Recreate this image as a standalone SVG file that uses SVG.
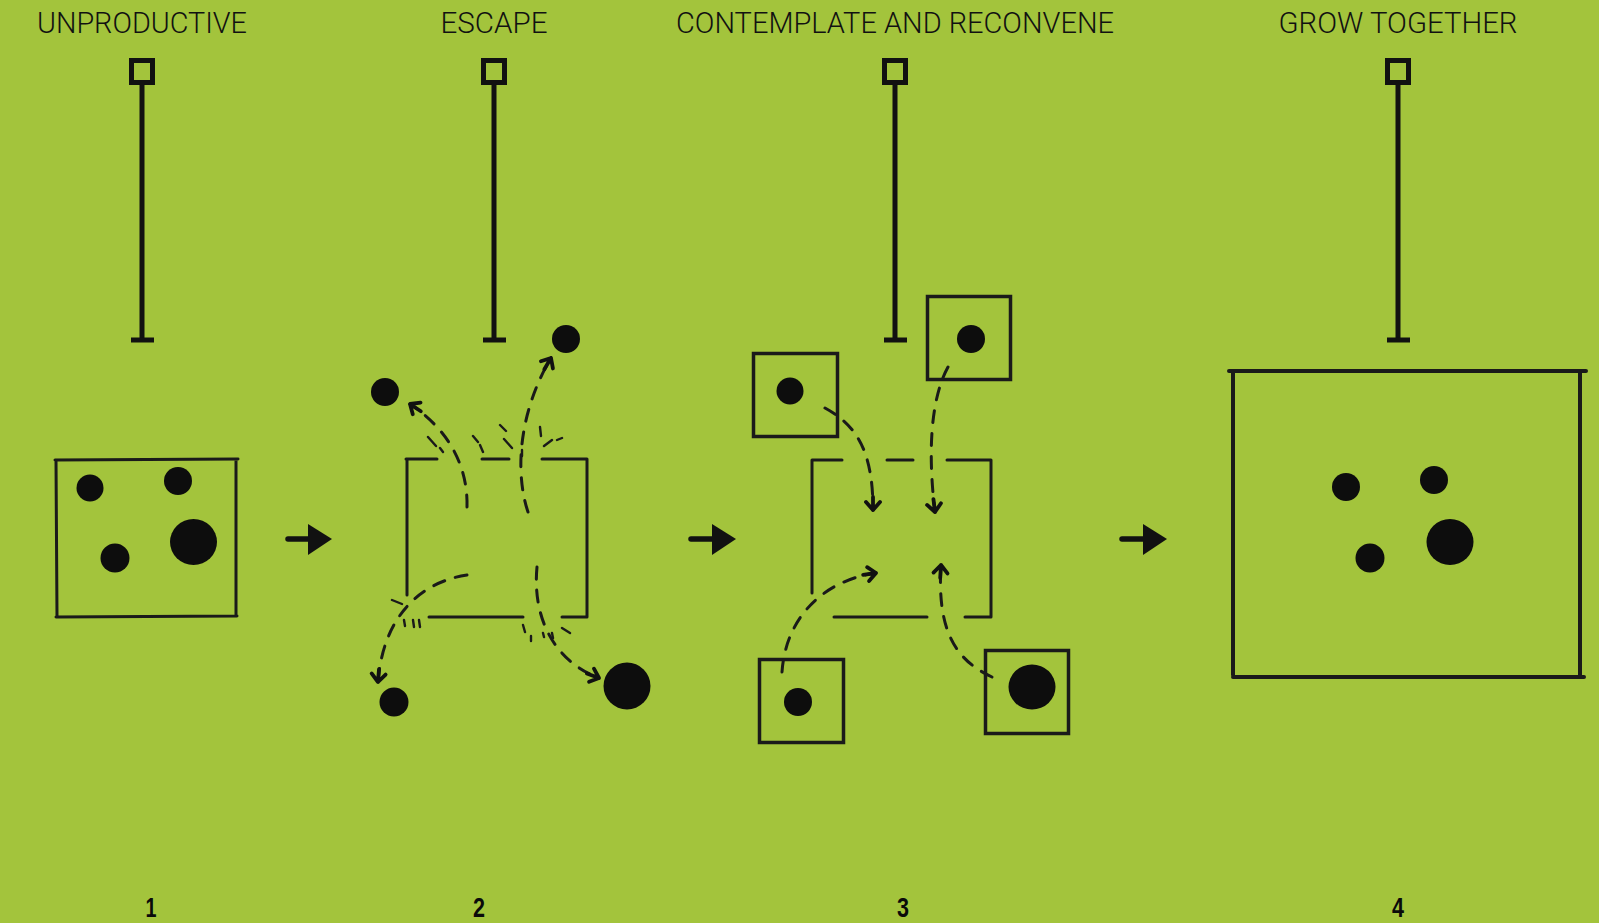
<svg xmlns="http://www.w3.org/2000/svg" width="1599" height="923" viewBox="0 0 1599 923">
<defs>
<style>
.title{font-family:Roboto,"Liberation Sans",Arial,sans-serif;font-weight:300;font-size:29px;fill:#111;text-anchor:middle;}
.num{font-family:"Liberation Sans",Arial,sans-serif;font-size:27px;font-weight:bold;fill:#0a0a0a;text-anchor:middle;}
.pin{fill:none;stroke:#111;stroke-width:5;}
.box{fill:none;stroke:#1a1a1a;stroke-width:3;stroke-linecap:round;}
.sbox{fill:none;stroke:#1a1a1a;stroke-width:3.5;}
.dot{fill:#0d0d0d;}
.dash{fill:none;stroke:#1a1a1a;stroke-width:3;stroke-dasharray:12 11;stroke-linecap:round;marker-end:url(#chev);}
.tick{fill:none;stroke:#1a1a1a;stroke-width:2.4;stroke-linecap:round;}
.big{stroke:#111;stroke-width:5.5;stroke-linecap:round;fill:none;}
</style>
<marker id="chev" viewBox="0 0 20 20" refX="16" refY="10" markerWidth="20" markerHeight="20" orient="auto" markerUnits="userSpaceOnUse">
<path d="M3,10 L16,10 M8,3 L16,10 L8,17" fill="none" stroke="#111" stroke-width="3.8" stroke-linecap="round" stroke-linejoin="round"/>
</marker>
</defs>
<rect width="1599" height="923" fill="#a3c43c"/>

<g id="titles">
<text class="title" x="142" y="33" textLength="210" lengthAdjust="spacingAndGlyphs">UNPRODUCTIVE</text>
<text class="title" x="494" y="33" textLength="107" lengthAdjust="spacingAndGlyphs">ESCAPE</text>
<text class="title" x="895" y="33" textLength="438" lengthAdjust="spacingAndGlyphs">CONTEMPLATE AND RECONVENE</text>
<text class="title" x="1398" y="33" textLength="239" lengthAdjust="spacingAndGlyphs">GROW TOGETHER</text>
</g>

<g id="pins">
<g id="pin1"><rect class="pin" x="131.5" y="60.5" width="21" height="22"/><line class="pin" x1="142" y1="83" x2="142" y2="340"/><line class="pin" x1="131" y1="340" x2="154" y2="340"/></g>
<g id="pin2"><rect class="pin" x="483.5" y="60.5" width="21" height="22"/><line class="pin" x1="494" y1="83" x2="494" y2="340"/><line class="pin" x1="483" y1="340" x2="506" y2="340"/></g>
<g id="pin3"><rect class="pin" x="884.5" y="60.5" width="21" height="22"/><line class="pin" x1="895" y1="83" x2="895" y2="340"/><line class="pin" x1="884" y1="340" x2="907" y2="340"/></g>
<g id="pin4"><rect class="pin" x="1387.5" y="60.5" width="21" height="22"/><line class="pin" x1="1398" y1="83" x2="1398" y2="340"/><line class="pin" x1="1387" y1="340" x2="1410" y2="340"/></g>
</g>

<g id="panel1">
<path class="box" d="M55,460 L238,459 M56,460 L57,616 M236,460 L236,616 M56,617 L237,616"/>
<circle class="dot" cx="90" cy="488" r="13.5"/>
<circle class="dot" cx="178" cy="481" r="14"/>
<circle class="dot" cx="115" cy="558" r="14.5"/>
<ellipse class="dot" cx="193.5" cy="542" rx="23.5" ry="23"/>
</g>

<g id="step-arrows">
<g id="arrow1"><line class="big" x1="288" y1="539" x2="312" y2="539"/><polygon points="308,524 332,539 308,555" fill="#111"/></g>
<g id="arrow2"><line class="big" x1="691" y1="539" x2="715" y2="539"/><polygon points="712,524 736,539 712,555" fill="#111"/></g>
<g id="arrow3"><line class="big" x1="1122" y1="539" x2="1146" y2="539"/><polygon points="1143,524 1167,539 1143,555" fill="#111"/></g>
</g>

<g id="panel2">
<path class="box" d="M406,459 L437,459 M482,459 L509,459 M542,459 L587,459 M407,459 L407,595 M587,459 L587,617 M429,617 L523,617 M562,617 L587,617"/>
<circle class="dot" cx="385" cy="392" r="14"/>
<circle class="dot" cx="566" cy="339" r="14"/>
<circle class="dot" cx="394" cy="702" r="14.5"/>
<circle class="dot" cx="627" cy="686" r="23.5"/>
</g>

<g id="panel3">
<path class="box" d="M812,460 L842,460 M887,460 L913,460 M947,460 L991,460 M812,460 L812,593 M991,460 L991,617 M834,617 L927,617 M965,617 L991,617"/>
<g id="p3-tl"><rect class="sbox" x="753.5" y="353.5" width="84" height="83"/><circle class="dot" cx="790" cy="391" r="13.5"/></g>
<g id="p3-tr"><rect class="sbox" x="927.5" y="296.5" width="83" height="83"/><circle class="dot" cx="971" cy="339" r="14"/></g>
<g id="p3-bl"><rect class="sbox" x="759.5" y="659.5" width="84" height="83"/><circle class="dot" cx="798" cy="702" r="14"/></g>
<g id="p3-br"><rect class="sbox" x="985.5" y="650.5" width="83" height="83"/><ellipse class="dot" cx="1032" cy="687" rx="23.5" ry="22.5"/></g>
</g>

<g id="panel4">
<path class="box" style="stroke-width:4" d="M1229,371 L1586,371 M1233,371 L1233,675 M1580,371 L1580,675 M1233,677 L1584,677"/>
<circle class="dot" cx="1346" cy="487" r="14"/>
<circle class="dot" cx="1434" cy="480" r="14"/>
<circle class="dot" cx="1370" cy="558" r="14.5"/>
<ellipse class="dot" cx="1450" cy="542" rx="23.5" ry="23"/>
</g>

<g id="connectors">
<path class="dash" d="M467,507 C468,470 452,432 410,404"/>
<path class="dash" d="M528,512 C514,470 520,410 551,358"/>
<path class="dash" d="M467,575 C420,582 383,617 378,682"/>
<path class="dash" d="M537,567 C532,620 556,662 599,678"/>
<path class="tick" d="M428,437 L436,446 M440,448 L443,452 M473,436 L478,442 M480,445 L483,452 M500,425 L506,431 M504,439 L512,448 M522,450 L522,456 M540,427 L541,436 M544,446 L552,440 M557,440 L562,438 M392,600 L402,604 M404,620 L405,626 M413,620 L414,627 M419,620 L420,627 M523,625 L525,632 M531,636 L531,641 M543,633 L544,637 M552,633 L553,638 M562,628 L570,633"/>
<path class="dash" d="M825,408 C856,425 873,450 873,510"/>
<path class="dash" d="M948,367 C930,400 928,455 935,512"/>
<path class="dash" d="M782,672 C786,615 826,580 876,573"/>
<path class="dash" d="M992,677 C955,660 937,630 941,565"/>
</g>

<g id="numbers">
<text class="num" x="151" y="917" textLength="11" lengthAdjust="spacingAndGlyphs">1</text>
<text class="num" x="479" y="917" textLength="12" lengthAdjust="spacingAndGlyphs">2</text>
<text class="num" x="903" y="917" textLength="12" lengthAdjust="spacingAndGlyphs">3</text>
<text class="num" x="1398" y="917" textLength="12" lengthAdjust="spacingAndGlyphs">4</text>
</g>
</svg>
